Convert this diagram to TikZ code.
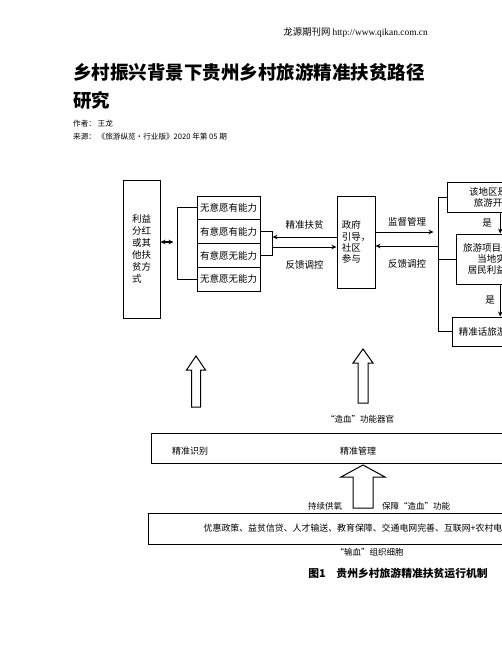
\documentclass[tikz,border=0pt]{standalone}
\usepackage{fontspec}
\setmainfont{Liberation Serif}
\newfontfamily\cjk{Noto Sans CJK SC}
\usetikzlibrary{positioning,arrows.meta}

\begin{document}
\begin{tikzpicture}[x=1pt,y=-1pt,
	box/.style={draw,line width=1pt,inner sep=0pt,font=\cjk\fontsize{9.5}{11}\selectfont},
	lbl/.style={inner sep=0pt,font=\cjk\fontsize{9.5}{11}\selectfont},
	small/.style={inner sep=0pt,font=\cjk\fontsize{8.5}{10}\selectfont},
	>={Stealth[length=5pt,width=4.5pt]}]
	\useasboundingbox (0,0) rectangle (502,649);
	
	% page head
	\node[inner sep=0pt,anchor=east] (site) at (428,33) {\cjk\fontsize{9.4}{11}\selectfont 龙源期刊网 \rmfamily http://www.qikan.com.cn};
	\node[inner sep=0pt,anchor=west,font=\cjk\bfseries\fontsize{18.5}{22}\selectfont] (title1) at (73,72) {乡村振兴背景下贵州乡村旅游精准扶贫路径};
	\node[inner sep=0pt,anchor=west,font=\cjk\bfseries\fontsize{18.5}{22}\selectfont] (title2) at (73,100) {研究};
	\node[inner sep=0pt,anchor=west,font=\cjk\fontsize{7.6}{9}\selectfont] (author) at (73,124) {作者： 王龙};
	\node[inner sep=0pt,anchor=west,font=\cjk\fontsize{7.6}{9}\selectfont] (source) at (73,137) {来源： 《旅游纵览·行业版》2020 年第 05 期};
	
	% benefit box and the four groups
	\node[box,minimum width=37pt,minimum height=138pt,align=left,font=\cjk\fontsize{9.5}{12}\selectfont] (benefit) at (141.5,249) {利益\\分红\\或其\\他扶\\贫方\\式};
	\foreach \t [count=\i] in {无意愿有能力,有意愿有能力,有意愿无能力,无意愿无能力}{
		\node[box,minimum width=63pt,minimum height=23.75pt] (row\i) at (228.5,{184.125+23.75*\i}) {\t};
	}
	\draw[line width=1pt] (row1.west) -- ++(-19,0) coordinate (lbr) |- (row4.west);
	\coordinate (da) at ([yshift=7pt]benefit.east);
	\draw[<->,line width=1.4pt,shorten >=4pt] (da) -- (da -| lbr);
	\draw[line width=1pt] (row2.east) -- ++(12,0) coordinate (rbr) |- (row3.east);
	
	% government
	\node[box,minimum width=38pt,minimum height=92pt,align=left,font=\cjk\fontsize{9.5}{11.3}\selectfont] (gov) at (356,242) {政府\\引导，\\社区\\参与};
	\coordinate (g1) at ([yshift=5pt]gov.west);
	\coordinate (g2) at ([yshift=-5pt]gov.west);
	\draw[->,line width=1pt] (g1) -- (g1 -| rbr) node[lbl,midway,above=7pt] {精准扶贫};
	\draw[->,line width=1pt] (g2 -| rbr) -- (g2) node[lbl,midway,below=13pt] {反馈调控};
	
	% checks on the right
	\node[box,minimum width=110.5pt,minimum height=30pt,align=center] (q1) at (502.25,197) {该地区是否具备\\旅游开发条件};
	\node[box,minimum width=90pt,minimum height=50pt,align=center] (q2) at (501,259) {旅游项目是否符合\\当地实际与\\居民利益的诉求};
	\node[box,minimum width=80pt,minimum height=29pt] (q3) at (492,331.5) {精准话旅游扶贫};
	\draw[line width=1pt] (q1.west) -- ++(-8,0) coordinate (vtop) |- (q3.west);
	\draw[line width=1pt] (q2.west) -- (q2.west -| vtop);
	\coordinate (g3) at ([yshift=10pt]gov.east);
	\coordinate (g4) at ([yshift=-4pt]gov.east);
	\draw[->,line width=1pt,shorten >=5pt] (g3) -- (g3 -| vtop) node[lbl,midway,above=5pt] {监督管理};
	\draw[->,line width=1pt] (g4 -| vtop) -- (g4) node[lbl,midway,below=13pt] {反馈调控};
	\coordinate (d1) at ([xshift=-2pt]q1.south);
	\draw[->,line width=1pt] (d1) -- (d1 |- q2.north) node[lbl,midway,left=8pt] {是};
	\coordinate (d2) at (d1 |- q2.south);
	\draw[->,line width=1pt] (d2) -- (d2 |- q3.north) node[lbl,midway,left=5pt] {是};
	
	% hollow arrows
	\foreach \cx/\tip/\hb/\bot/\sw/\hw in {196/356/370/407/4.5/9.5, 363/349/363/403/5/10, 363/465/477/508/10/22}{
		\draw[line width=1pt,fill=white] (\cx,\tip) -- ({\cx+\hw},\hb) -- ({\cx+\sw},\hb) -- ({\cx+\sw},\bot) -- ({\cx-\sw},\bot) -- ({\cx-\sw},\hb) -- ({\cx-\hw},\hb) -- cycle;
	}
	
	% organ band
	\node[box,minimum width=424pt,minimum height=30pt] (organ) at (363,448) {};
	\node[lbl,font=\cjk\fontsize{9}{10}\selectfont] (ident) at (190,451) {精准识别};
	\node[lbl,font=\cjk\fontsize{9}{10}\selectfont] (manage) at (358,451) {精准管理};
	\node[small,above=9pt of organ.north,xshift=-3pt] (make) {“造血”功能器官};
	\node[small] (oxygen) at (325,506) {持续供氧};
	\node[small] (keep) at (416,506) {保障“造血”功能};
	
	% supply band
	\node[box,minimum width=419pt,minimum height=31pt,font=\cjk\fontsize{8.9}{10}\selectfont] (supply) at (357.5,528.5) {优惠政策、益贫信贷、人才输送、教育保障、交通电网完善、互联网+农村电商};
	\node[small,below=4pt of supply.south,xshift=12pt] (transfuse) {“输血”组织细胞};
	
	\node[inner sep=0pt,font=\cjk\bfseries\fontsize{10.8}{13}\selectfont] (caption) at (398,573) {图1\quad 贵州乡村旅游精准扶贫运行机制};
\end{tikzpicture}
\end{document}
